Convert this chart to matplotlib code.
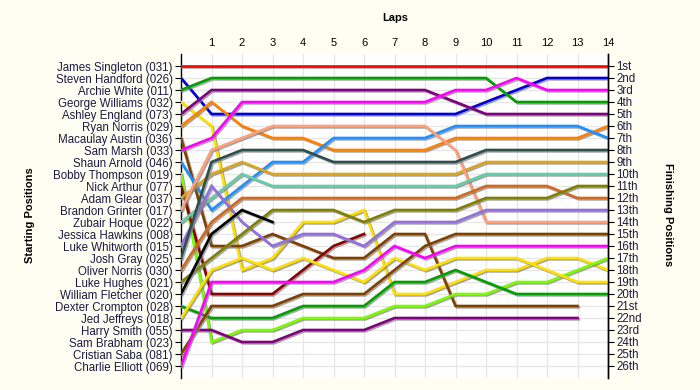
import numpy as np
import matplotlib
matplotlib.use("Agg")
import matplotlib.pyplot as plt
import matplotlib.patheffects as pe

plt.rcParams['font.family'] = ['Liberation Sans', 'DejaVu Sans']

laps = list(range(0, 15))
start_labels = [
    "James Singleton (031)", "Steven Handford (026)", "Archie White (011)",
    "George Williams (032)", "Ashley England (073)", "Ryan Norris (029)",
    "Macaulay Austin (036)", "Sam Marsh (033)", "Shaun Arnold (046)",
    "Bobby Thompson (019)", "Nick Arthur (077)", "Adam Glear (037)",
    "Brandon Grinter (017)", "Zubair Hoque (022)", "Jessica Hawkins (008)",
    "Luke Whitworth (015)", "Josh Gray (025)", "Oliver Norris (030)",
    "Luke Hughes (021)", "William Fletcher (020)", "Dexter Crompton (028)",
    "Jed Jeffreys (018)", "Harry Smith (055)", "Sam Brabham (023)",
    "Cristian Saba (081)", "Charlie Elliott (069)",
]
finish_labels = ["1st", "2nd", "3rd"] + [f"{i}th" for i in range(4, 21)] + \
    ["21st", "22nd", "23rd", "24th", "25th", "26th"]

N = None
# position after each lap (lap 0 = start); None = no longer running
pos_red = [1, 1, 1, 1, 1, 1, 1, 1, 1, 1, 1, 1, 1, 1, 1]
pos_blue = [2, 5, 5, 5, 5, 5, 5, 5, 5, 5, 4, 3, 2, 2, 2]
pos_green = [3, 2, 2, 2, 2, 2, 2, 2, 2, 2, 2, 4, 4, 4, 4]
pos_yellow_a = [4, 6, 18, 17, 14, 14, 13, 20, 20, 19, 18, 18, 17, 17, 18]
pos_purple = [5, 3, 3, 3, 3, 3, 3, 3, 3, 4, 5, 5, 5, 5, 5]
pos_orange = [6, 4, 6, 7, 7, 8, 8, 8, 8, 7, 7, 7, 7, 7, 6]
pos_brown_a = [7, 16, 16, 15, 16, 17, 17, 15, 15, 21, 21, 21, 21, 21, N]
pos_magenta_a = [8, 7, 4, 4, 4, 4, 4, 4, 4, 3, 3, 2, 3, 3, 3]
pos_lightblue = [9, 13, 11, 9, 9, 7, 7, 7, 7, 6, 6, 6, 6, 6, 7]
pos_lime = [10, 24, 23, 23, 22, 22, 22, 21, 21, 20, 20, 19, 19, 18, 17]
pos_maroon = [11, 20, 20, 20, 18, 16, 15, N, N, N, N, N, N, N, N]
pos_goldenrod = [12, 10, 9, 10, 10, 10, 10, 10, 10, 10, 9, 9, 9, 9, 9]
pos_salmon = [13, 8, 7, 6, 6, 6, 6, 6, 6, 8, 14, 14, 14, 14, 14]
pos_aqua = [14, 12, 10, 11, 11, 11, 11, 11, 11, 11, 10, 10, 10, 10, 10]
pos_medpurple = [16, 11, 14, 16, 15, 15, 16, 14, 14, 14, 13, 13, 13, 13, 13]
pos_slate = [17, 9, 8, 8, 8, 9, 9, 9, 9, 9, 8, 8, 8, 8, 8]
pos_chocolate = [18, 14, 12, 12, 12, 12, 12, 12, 12, 12, 11, 11, 11, 12, 12]
pos_olive = [19, 17, 15, 13, 13, 13, 14, 13, 13, 13, 12, 12, 12, 11, 11]
pos_black = [20, 15, 13, 14, N, N, N, N, N, N, N, N, N, N, N]
pos_green_b = [21, 22, 22, 22, 21, 21, 21, 19, 19, 18, 19, 20, 20, 20, 20]
pos_yellow_b = [22, 18, 17, 18, 17, 18, 19, 17, 18, 17, 17, 17, 18, 19, 19]
pos_purple_b = [23, 23, 24, 24, 23, 23, 23, 22, 22, 22, 22, 22, 22, 22, N]
pos_brown_b = [25, 21, 21, 21, 20, 20, 20, 18, 16, 15, 15, 15, 15, 15, 15]
pos_magenta_b = [26, 19, 19, 19, 19, 19, 18, 16, 17, 16, 16, 16, 16, 16, 16]

series = [pos_red, pos_blue, pos_green, pos_yellow_a, pos_purple, pos_orange,
          pos_brown_a, pos_magenta_a, pos_lightblue, pos_lime, pos_maroon,
          pos_goldenrod, pos_salmon, pos_aqua, pos_medpurple, pos_slate,
          pos_chocolate, pos_olive, pos_black, pos_green_b, pos_yellow_b,
          pos_purple_b, pos_brown_b, pos_magenta_b]
colors = ['#FF0000', '#0000DD', '#00A000', '#FFE000', '#800080', '#FF8000',
          '#804000', '#FF00FF', '#1E90FF', '#7CFC00', '#8B0000',
          '#DAA520', '#FFA07A', '#66CDAA', '#9370DB', '#2F4F4F',
          '#D2691E', '#808000', '#000000', '#00A000', '#FFE000',
          '#800080', '#804000', '#FF00FF']

fig = plt.figure(figsize=(7, 3.9), dpi=100, facecolor='#FFFEF2')
ax = fig.add_axes([181 / 700, 1 - 378 / 390, (608 - 181) / 700, (378 - 54) / 390])
ax.set_facecolor('white')
ax.set_xlim(0, 14)
ax.set_ylim(27, 0)

for s, c in zip(series, colors):
    y = np.array([np.nan if v is None else v for v in s], dtype=float)
    ax.plot(laps, y, color=c, lw=1.9, solid_joinstyle='miter', zorder=3,
            path_effects=[pe.SimpleLineShadow(offset=(1, -1), shadow_color='#808080', alpha=0.7),
                          pe.Normal()])

ax.xaxis.tick_top()
ax.set_xticks(range(1, 15))
ax.set_xticklabels([str(i) for i in range(1, 15)], fontsize=8)
ax.tick_params(axis='x', length=0, pad=4)
ax.set_yticks(range(1, 27))
ax.set_yticklabels(start_labels, fontsize=8.3, color='#1a1a40')
ax.tick_params(axis='y', length=4, width=0.8, pad=2)
ax.grid(True, color='#E6E6E6', lw=0.9, zorder=0)
ax.set_axisbelow(True)
for sp in ['top', 'bottom']:
    ax.spines[sp].set_visible(False)
for sp in ['left', 'right']:
    ax.spines[sp].set_linewidth(1.0)

ax2 = ax.twinx()
ax2.set_ylim(27, 0)
ax2.set_yticks(range(1, 27))
ax2.set_yticklabels(finish_labels, fontsize=8.3, color='#1a1a40')
ax2.tick_params(axis='y', length=4, width=0.8, pad=2)
for sp in ['top', 'bottom', 'left']:
    ax2.spines[sp].set_visible(False)
ax2.spines['right'].set_linewidth(1.0)

fig.text(395 / 700, 1 - 18 / 390, 'Laps', ha='center', va='center', fontsize=8, fontweight='bold')
fig.text(30 / 700, 1 - 215 / 390, 'Starting Positions', ha='center', va='center',
         rotation=90, fontsize=8, fontweight='bold')
fig.text(668 / 700, 1 - 215 / 390, 'Finishing Positions', ha='center', va='center',
         rotation=270, fontsize=8, fontweight='bold')

fig.savefig('out.png', dpi=100, facecolor=fig.get_facecolor())
